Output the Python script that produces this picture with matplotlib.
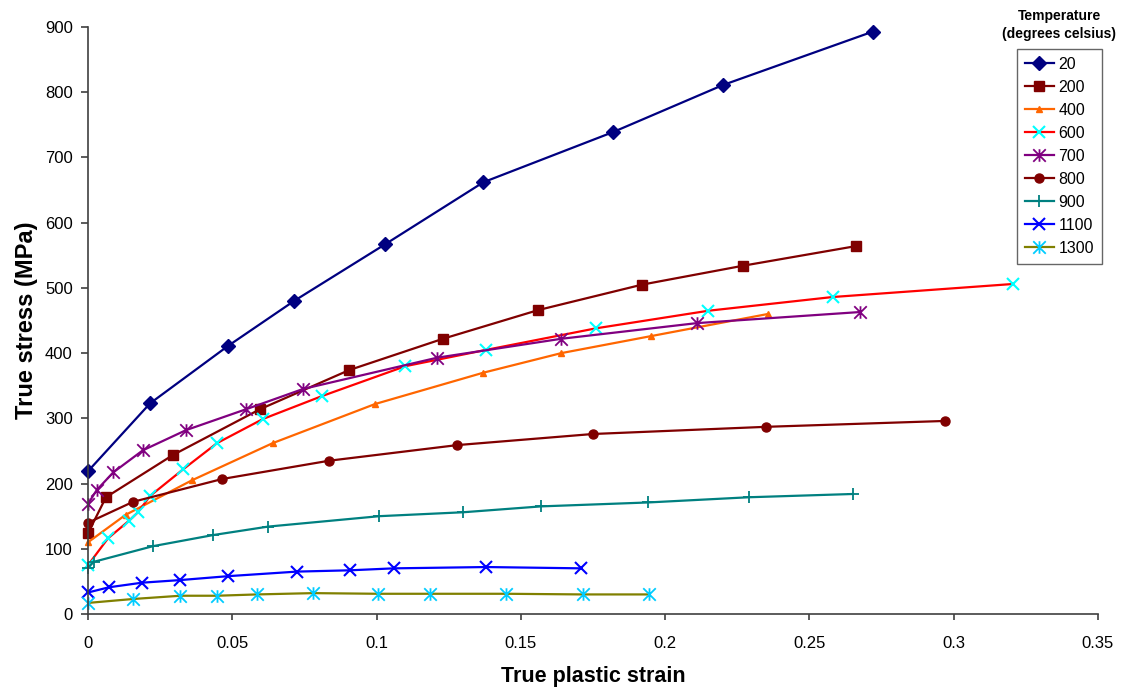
import matplotlib
matplotlib.use("Agg")
import matplotlib.pyplot as plt
from matplotlib.path import Path

plt.rcParams['font.family'] = ['Liberation Sans', 'DejaVu Sans']

# true plastic strain / true stress (MPa)
x20 = [0, 0.0215, 0.0485, 0.0714, 0.103, 0.137, 0.182, 0.220, 0.272]
y20 = [219, 323, 411, 480, 567, 662, 739, 811, 893]

x200 = [0, 0.0062, 0.0295, 0.0596, 0.0905, 0.123, 0.156, 0.192, 0.227, 0.266]
y200 = [124, 179, 244, 314, 374, 422, 466, 505, 534, 564]

x400 = [0, 0.013, 0.036, 0.064, 0.0995, 0.137, 0.164, 0.195, 0.2356]
y400 = [110, 152, 205, 262, 322, 370, 400, 426, 460]

x600 = [0, 0.0069, 0.0142, 0.0173, 0.0215, 0.033, 0.0447, 0.0606, 0.081,
        0.110, 0.138, 0.176, 0.215, 0.258, 0.3205]
y600 = [75, 116, 143, 156, 181, 222, 262, 299, 334, 380, 405, 438, 465, 486, 506]

x700 = [0, 0.003, 0.0087, 0.019, 0.034, 0.0548, 0.0745, 0.121, 0.164, 0.211, 0.2675]
y700 = [169, 190, 217, 251, 282, 314, 345, 393, 422, 446, 463]

x800 = [0, 0.0156, 0.0465, 0.0835, 0.128, 0.175, 0.235, 0.297]
y800 = [140, 172, 207, 235, 259, 276, 287, 296]

x900 = [0, 0.002, 0.0225, 0.0433, 0.0624, 0.101, 0.13, 0.157, 0.194, 0.229, 0.265]
y900 = [71, 80, 104, 121, 134, 150, 156, 165, 171, 179, 184]

x1100 = [0, 0.0073, 0.0187, 0.0319, 0.0485, 0.0724, 0.0908, 0.106, 0.138, 0.171]
y1100 = [33, 41, 48, 52, 58, 65, 67, 70, 72, 70]

x1300 = [0, 0.0156, 0.032, 0.0447, 0.0585, 0.078, 0.1005, 0.1185, 0.145, 0.1715, 0.1944]
y1300 = [17, 23, 28, 28, 30, 32, 31, 31, 31, 30, 30]

labels = ["20", "200", "400", "600", "700", "800", "900", "1100", "1300"]

# excel-style asterisk: an x with a vertical bar
star = Path([(0, -1), (0, 1), (-1, -1), (1, 1), (-1, 1), (1, -1)],
            [Path.MOVETO, Path.LINETO, Path.MOVETO, Path.LINETO,
             Path.MOVETO, Path.LINETO])

series = [
    (x20, y20, "#000080", dict(marker="D", ms=7, mfc="#000080", mec="#000080")),
    (x200, y200, "#800000", dict(marker="s", ms=7, mfc="#800000", mec="#800000")),
    (x400, y400, "#FF6600", dict(marker="^", ms=4, mfc="#FF6600", mec="#FF6600")),
    (x600, y600, "#FF0000", dict(marker="x", ms=8, mec="#00FFFF", mew=1.5)),
    (x700, y700, "#800080", dict(marker=star, ms=9, mfc="none", mec="#800080", mew=1.3)),
    (x800, y800, "#800000", dict(marker="o", ms=6.5, mfc="#800000", mec="#800000")),
    (x900, y900, "#008080", dict(marker="+", ms=9, mec="#008080", mew=1.3)),
    (x1100, y1100, "#0000FF", dict(marker="x", ms=8, mec="#0000FF", mew=1.5)),
    (x1300, y1300, "#808000", dict(marker=star, ms=9, mfc="none", mec="#00CCFF", mew=1.3)),
]

fig = plt.figure(figsize=(11.26, 6.93), dpi=100)
ax = fig.add_axes([0.0782, 0.114, 0.8969, 0.847])

for (xs, ys, col, mk), lab in zip(series, labels):
    ax.plot(xs, ys, color=col, lw=1.6, label=lab, clip_on=False, **mk)

ax.set_xlim(0, 0.35)
ax.set_ylim(0, 900)
ax.set_xticks([0, 0.05, 0.1, 0.15, 0.2, 0.25, 0.3, 0.35])
ax.set_xticklabels(["0", "0.05", "0.1", "0.15", "0.2", "0.25", "0.3", "0.35"])
ax.set_yticks(range(0, 901, 100))

for s in ["top", "right"]:
    ax.spines[s].set_visible(False)
for s in ["left", "bottom"]:
    ax.spines[s].set_color("#404040")
    ax.spines[s].set_linewidth(1.2)
ax.tick_params(axis="y", direction="out", length=5, width=1.2, color="#404040",
               labelsize=12, pad=6)
ax.tick_params(axis="x", direction="out", length=4, width=1.2, color="#404040",
               labelsize=12, pad=12)

ax.set_xlabel("True plastic strain", fontsize=15.5, fontweight="bold", labelpad=11)
ax.set_ylabel("True stress (MPa)", fontsize=17, fontweight="bold")
ax.yaxis.set_label_coords(-0.05, 0.5)

leg = ax.legend(loc="upper right", bbox_to_anchor=(1102 / 1126, 1 - 49 / 693),
                bbox_transform=fig.transFigure, fontsize=11.5, frameon=True,
                fancybox=False, edgecolor="#404040", handlelength=1.8,
                labelspacing=0.5, borderpad=0.5, handletextpad=0.3,
                borderaxespad=0)
leg.get_frame().set_linewidth(1.0)

fig.text(1059 / 1126, 1 - 25 / 693, "Temperature\n(degrees celsius)", ha="center",
         va="center", fontsize=10, fontweight="bold", linespacing=1.3)

fig.savefig("out.png", dpi=100)
